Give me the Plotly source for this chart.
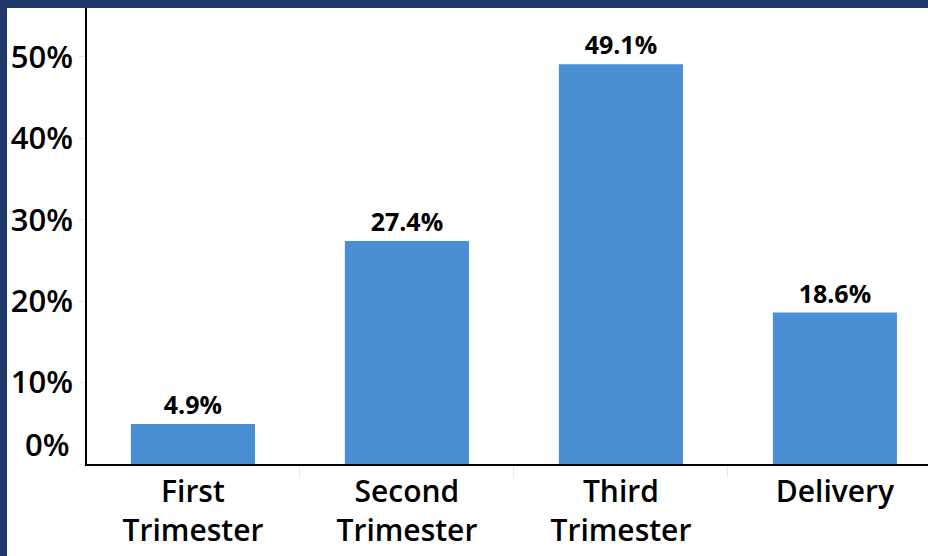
import plotly.graph_objects as go

categories = ["First<br>Trimester", "Second<br>Trimester", "Third<br>Trimester", "Delivery"]
shares = [4.9, 27.4, 49.1, 18.6]
y_ticks = [0, 10, 20, 30, 40, 50]
y_tick_labels = ["", "10%", "20%", "30%", "40%", "50%"]

NAVY = "#1f3869"
BAR = "#4a8fd4"
FONT = "Open Sans"

W, H = 928, 556
ML, MR, MT, MB = 87, 0, 8, 92
PW, PH = W - ML - MR, H - MT - MB

fig = go.Figure(go.Bar(
    x=categories,
    y=shares,
    width=0.58,
    marker=dict(color=BAR, line=dict(width=0)),
    text=[f"{v}%" for v in shares],
    textposition="outside",
    textfont=dict(family=FONT, size=25, color="black", weight="bold"),
    cliponaxis=False,
    hoverinfo="x+y",
))

fig.update_layout(
    width=W, height=H,
    margin=dict(l=ML, r=MR, t=MT, b=MB),
    paper_bgcolor="white",
    plot_bgcolor="white",
    showlegend=False,
    font=dict(family=FONT, color="black"),
    shapes=[
        # navy frame: top strip and left strip
        dict(type="rect", xref="paper", yref="paper", layer="above",
             x0=-ML / PW, x1=1, y0=1, y1=1 + 9 / PH,
             fillcolor=NAVY, line=dict(width=0)),
        dict(type="rect", xref="paper", yref="paper", layer="above",
             x0=-ML / PW, x1=-(ML - 7) / PW, y0=-MB / PH, y1=1 + 9 / PH,
             fillcolor=NAVY, line=dict(width=0)),
    ],
    annotations=[
        dict(text="0%", xref="paper", yref="y", x=0, y=0, xanchor="right",
             yanchor="middle", xshift=-15, yshift=20, showarrow=False,
             font=dict(family=FONT, size=31, color="black", weight=600)),
    ],
)

fig.update_xaxes(
    type="category",
    range=[-0.495, 3.435],
    showline=True, linecolor="black", linewidth=1.5,
    showgrid=False, zeroline=False,
    ticks="outside", tickson="boundaries", ticklen=11, tickcolor="#e4e4e4",
    tickfont=dict(family=FONT, size=30, color="black", weight=600),
)

fig.update_yaxes(
    range=[0, 56],
    tickvals=y_ticks, ticktext=y_tick_labels,
    showline=True, linecolor="black", linewidth=1.5,
    showgrid=False, zeroline=False,
    ticks="outside", ticklen=6, tickcolor="#e4e4e4",
    ticklabelstandoff=0,
    tickfont=dict(family=FONT, size=31, color="black", weight=600),
)

fig.write_html("out.html", config={"displayModeBar": False},
               post_script="document.body.style.margin='0';")
